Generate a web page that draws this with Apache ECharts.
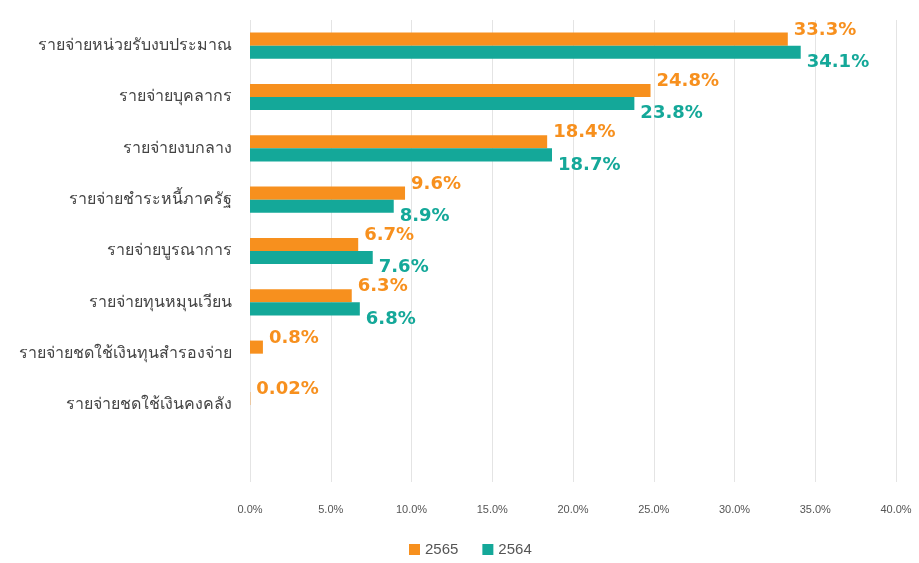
<!DOCTYPE html>
<html>
<head>
<meta charset="utf-8">
<script src="https://cdn.jsdelivr.net/npm/echarts@6/dist/echarts.min.js"></script>
<style>
  html, body { margin: 0; padding: 0; background: #fff; }
  #chart { width: 919px; height: 563px; }
</style>
</head>
<body>
<div id="chart"></div>
<script>
// หมวดรายจ่าย (บนลงล่าง) — ช่องสุดท้ายว่าง
const categories = [
  'รายจ่ายหน่วยรับงบประมาณ',
  'รายจ่ายบุคลากร',
  'รายจ่ายงบกลาง',
  'รายจ่ายชำระหนี้ภาครัฐ',
  'รายจ่ายบูรณาการ',
  'รายจ่ายทุนหมุนเวียน',
  'รายจ่ายชดใช้เงินทุนสำรองจ่าย',
  'รายจ่ายชดใช้เงินคงคลัง',
  ''
]
const values2565 = [33.3, 24.8, 18.4, 9.6, 6.7, 6.3, 0.8, 0.02, null]
const values2564 = [34.1, 23.8, 18.7, 8.9, 7.6, 6.8, null, null, null]
const seriesNames = ['2565', '2564']

const colorList = ['#f7901e', '#14a899']
const labelOffset = [[0, -9], [0, 10]]

const chart = echarts.init(document.getElementById('chart'))

let series = [values2565, values2564].map((vals, index) => {
  return {
    name: seriesNames[index],
    type: 'bar',
    data: vals,
    barGap: '0%',
    barCategoryGap: '49%',
    itemStyle: { color: colorList[index] },
    label: {
      show: true,
      position: 'right',
      distance: 6,
      offset: labelOffset[index],
      color: colorList[index],
      fontSize: 18,
      fontWeight: 'bold',
      fontFamily: 'DejaVu Sans',
      formatter: p => (p.value == null ? '' : p.value + '%')
    }
  }
})

const option = {
  animation: false,
  grid: {
    left: 250,
    right: 23,
    top: 20,
    bottom: 81
  },
  legend: {
    bottom: 1,
    left: 404,
    itemWidth: 11,
    itemHeight: 11,
    icon: 'rect',
    itemGap: 24,
    textStyle: { color: '#555', fontSize: 15 },
    data: seriesNames
  },
  xAxis: {
    type: 'value',
    min: 0,
    max: 40,
    interval: 5,
    axisLine: { show: false },
    axisTick: { show: false },
    axisLabel: {
      color: '#555',
      fontSize: 11,
      margin: 22,
      formatter: v => v.toFixed(1) + '%'
    },
    splitLine: { lineStyle: { color: '#e4e4e4' } }
  },
  yAxis: {
    type: 'category',
    inverse: true,
    data: categories,
    axisLine: { show: false },
    axisTick: { show: false },
    axisLabel: {
      color: '#444',
      fontSize: 16,
      margin: 18
    }
  },
  series: series
}

chart.setOption(option)
</script>
</body>
</html>
